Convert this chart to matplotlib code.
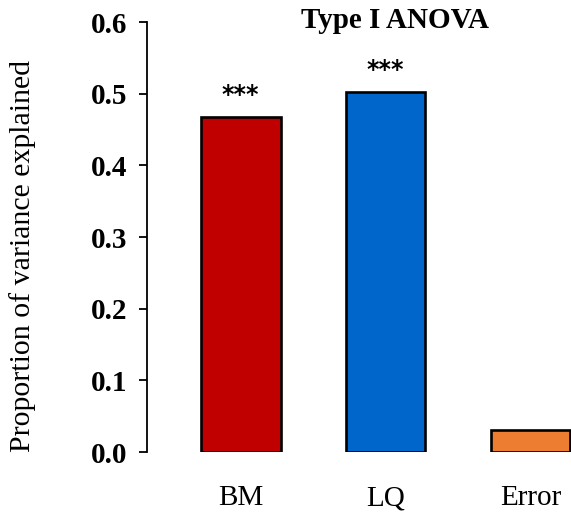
import matplotlib
matplotlib.use("Agg")
import matplotlib.pyplot as plt

categories = ["BM", "LQ", "Error"]
values = [0.467, 0.503, 0.031]
significance = ["***", "***", ""]
colors = ["#C00000", "#0066CC", "#ED7D31"]
yticks = [0.0, 0.1, 0.2, 0.3, 0.4, 0.5, 0.6]

plt.rcParams['font.family'] = ['Liberation Serif', 'DejaVu Serif']

fig = plt.figure(figsize=(5.71, 5.12), dpi=100)
ax = fig.add_axes([0.2574, 0.117, 0.7426, 0.840])

x = list(range(len(categories)))
ax.bar(x, values, width=0.55, color=colors, edgecolor="black", linewidth=1.9, zorder=2)

ax.set_ylim(0, 0.6)
ax.set_xlim(-0.647, 2.28)
ax.set_yticks(yticks)
ax.set_yticklabels([f"{v:.1f}" for v in yticks], fontsize=21, fontweight="bold")
ax.set_xticks(x)
ax.set_xticklabels(categories, fontsize=21)
ax.tick_params(axis="x", length=0, pad=24)
ax.tick_params(axis="y", length=6, width=1.3, pad=8)

for s in ["top", "right", "bottom"]:
    ax.spines[s].set_visible(False)
ax.spines["left"].set_linewidth(1.3)

for xi, v, s in zip(x, values, significance):
    if s:
        ax.text(xi, v + 0.014, s, ha="center", va="bottom", fontsize=17, fontweight="bold",
                family="DejaVu Sans")

ax.set_ylabel("Proportion of variance explained", fontsize=21.5)
ax.yaxis.set_label_coords(-0.262, 0.456)

fig.text(395 / 571, 1 - 20 / 512, "Type I ANOVA", ha="center", va="center",
         fontsize=21, fontweight="bold")

fig.savefig("out.png", dpi=100)
